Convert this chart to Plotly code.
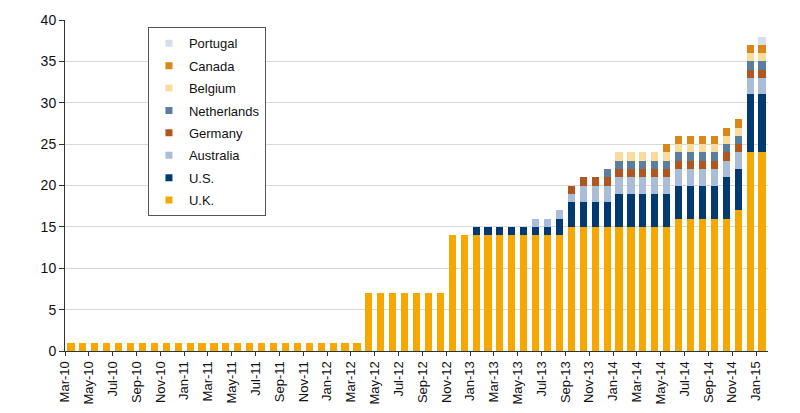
import plotly.graph_objects as go

# monthly, Mar-10 .. Jan-15
months = ["Mar-10", "Apr-10", "May-10", "Jun-10", "Jul-10", "Aug-10", "Sep-10", "Oct-10", "Nov-10", "Dec-10",
          "Jan-11", "Feb-11", "Mar-11", "Apr-11", "May-11", "Jun-11", "Jul-11", "Aug-11", "Sep-11", "Oct-11",
          "Nov-11", "Dec-11", "Jan-12", "Feb-12", "Mar-12", "Apr-12", "May-12", "Jun-12", "Jul-12", "Aug-12",
          "Sep-12", "Oct-12", "Nov-12", "Dec-12", "Jan-13", "Feb-13", "Mar-13", "Apr-13", "May-13", "Jun-13",
          "Jul-13", "Aug-13", "Sep-13", "Oct-13", "Nov-13", "Dec-13", "Jan-14", "Feb-14", "Mar-14", "Apr-14",
          "May-14", "Jun-14", "Jul-14", "Aug-14", "Sep-14", "Oct-14", "Nov-14", "Dec-14", "Jan-15"]

uk = [1] * 25 + [7] * 7 + [14] * 10 + [15] * 9 + [16] * 5 + [17, 24, 24]
us = [0] * 34 + [1] * 7 + [2] + [3] * 4 + [4] * 9 + [5, 5, 7, 7]
australia = [0] * 39 + [1, 1, 1, 1] + [2] * 16
germany = [0] * 42 + [1] * 17
netherlands = [0] * 45 + [1] * 14
belgium = [0] * 46 + [1] * 13
canada = [0] * 50 + [1] * 9
portugal = [0] * 58 + [1]

series = [
    ("U.K.", uk, "#F5A800"),
    ("U.S.", us, "#003A70"),
    ("Australia", australia, "#A9BCD8"),
    ("Germany", germany, "#B0561E"),
    ("Netherlands", netherlands, "#5B7E9E"),
    ("Belgium", belgium, "#F8DC9C"),
    ("Canada", canada, "#D9861A"),
    ("Portugal", portugal, "#D5DEEB"),
]

xpos = [i + 0.5 for i in range(len(months))]
tick_idx = list(range(0, len(months), 2))
FONT = "Liberation Sans Narrow, Arial Narrow, Liberation Sans, Arial"

fig = go.Figure()
for name, vals, color in series:
    fig.add_trace(go.Bar(x=xpos, y=vals, name=name, marker_color=color,
                         marker_line_width=0, width=0.6, showlegend=False))

# legend swatches, top of the stack listed first
for name, vals, color in reversed(series):
    fig.add_trace(go.Scatter(x=[None], y=[None], mode="markers", name=name,
                             legendgroup=name,
                             marker=dict(symbol="square", size=7, color=color)))

fig.update_layout(
    barmode="stack",
    width=800, height=413,
    margin=dict(l=57, r=40, t=4, b=70),
    plot_bgcolor="white", paper_bgcolor="white",
    font=dict(family=FONT, size=13, color="#111"),
    bargap=0,
    legend=dict(x=0.118, y=0.978, xanchor="left", yanchor="top", traceorder="grouped",
                bordercolor="#555", borderwidth=1, bgcolor="white",
                font=dict(family=FONT, size=13),
                itemwidth=30, tracegroupgap=2.5),
)
fig.update_xaxes(range=[0, len(months)], tickmode="array", tickvals=tick_idx,
                 ticktext=[months[i] for i in tick_idx], tickangle=-90,
                 ticks="outside", ticklen=4, tickcolor="#333",
                 showline=True, linecolor="#333", linewidth=1, showgrid=False,
                 tickfont=dict(size=13))
fig.update_yaxes(range=[0, 40], dtick=5, ticks="outside", ticklen=5, tickcolor="#333",
                 showline=True, linecolor="#333", linewidth=1,
                 showgrid=True, gridcolor="#d9d9d9", zeroline=False,
                 ticklabeloverflow="allow", tickfont=dict(size=14))

fig.write_html("out.html")
